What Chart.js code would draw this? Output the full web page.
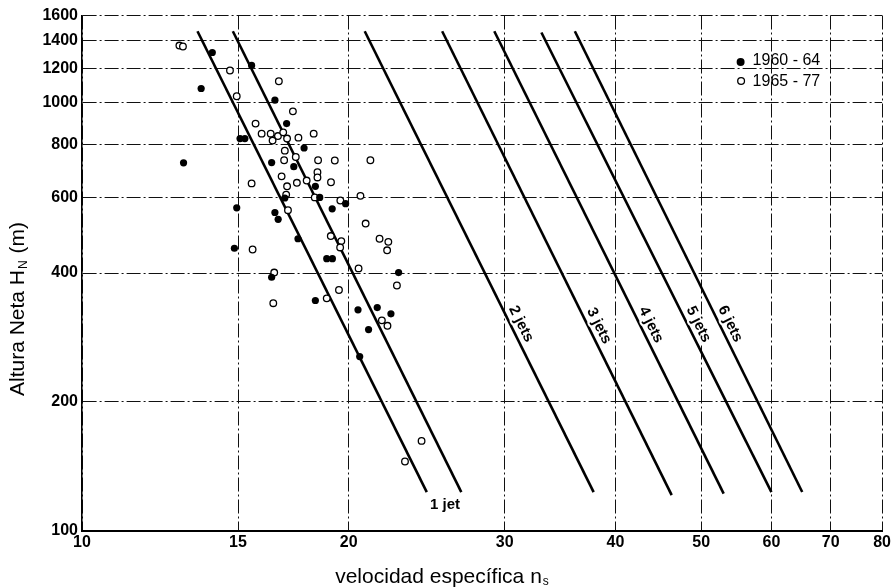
<!DOCTYPE html>
<html><head><meta charset="utf-8">
<script src="https://cdn.jsdelivr.net/npm/chart.js@4.4.0/dist/chart.umd.min.js"></script>
<style>html,body{margin:0;padding:0;background:#fff}#wrap{width:893px;height:588px;position:relative}</style>
</head><body><div id="wrap"><canvas id="c" width="893" height="588"></canvas></div>
<script>
// ---- data ----
const xTicks = [10, 15, 20, 30, 40, 50, 60, 70, 80];
const yTicks = [100, 200, 400, 600, 800, 1000, 1200, 1400, 1600];
const seriesNames = ['1960 - 64', '1965 - 77'];
const xTitle = 'velocidad específica n';
const xTitleSub = 's';
const yTitle = 'Altura Neta H';
const yTitleSub = 'N';
const yTitleTail = ' (m)';

// 1960-64 (filled)
const filledNs = [14.03, 13.63, 15.54, 16.51, 17.02, 15.08, 15.27, 17.81, 16.37, 17.34, 13.02, 18.34, 16.94, 18.55, 19.84, 14.95, 16.51, 16.65, 19.16, 17.53, 14.86, 18.89, 19.17, 16.37, 22.77, 18.34, 20.49, 21.54, 22.32, 21.06, 20.58];
const filledH  = [1311, 1080, 1223, 1014, 894, 825, 825, 784, 725, 709, 724, 638, 599, 601, 581, 568, 554, 534, 565, 481, 457, 432, 432, 391, 401, 345, 328, 332, 321, 295, 255];

// 1965-77 (open)
const openNs = [12.88, 13.00, 14.69, 14.95, 16.68, 17.30, 15.70, 15.95, 16.33, 16.64, 16.87, 16.41, 17.04, 17.55, 18.26, 16.94, 17.43, 16.91, 18.47, 19.29, 21.16, 16.80, 18.44, 18.44, 17.48, 17.93, 19.10, 15.54, 17.04, 17.00, 18.31, 19.57, 20.62, 17.08, 20.90, 19.09, 19.62, 19.56, 21.67, 22.17, 22.10, 15.58, 20.52, 16.48, 22.67, 16.44, 18.89, 19.50, 21.80, 22.12, 24.17, 23.15];
const openH  = [1361, 1354, 1190, 1036, 1123, 955, 894, 847, 847, 836, 853, 816, 825, 829, 847, 773, 747, 734, 734, 733, 734, 673, 688, 669, 650, 658, 652, 648, 638, 610, 601, 591, 606, 561, 522, 488, 475, 459, 481, 473, 452, 454, 410, 401, 374, 340, 349, 365, 310, 301, 162, 145];

// jet lines (straight lines in log-log space)
const lineNames    = ['1 jet', '1 jet', '2 jets', '3 jets', '4 jets', '5 jets', '6 jets'];
const lineNsTop    = [13.5, 14.8, 20.85, 25.5, 29.2, 33.0, 36.0];
const lineHTop     = [1470, 1470, 1470, 1470, 1470, 1460, 1470];
const lineNsBottom = [24.5, 26.8, 37.8, 46.3, 53.0, 60.0, 65.0];
const lineHBottom  = [123, 123, 123, 121, 122, 123, 123];

// ---- build chart ----
const FONT = '"Liberation Sans", Arial, Helvetica, sans-serif';
const toPts = (xs, ys) => xs.map((v, i) => ({x: v, y: ys[i]}));

const datasets = [
  {label: seriesNames[0], data: toPts(filledNs, filledH), showLine: false, order: 0,
   pointStyle: 'circle', pointRadius: 3.6, pointBackgroundColor: '#000', pointBorderColor: '#000', pointBorderWidth: 0},
  {label: seriesNames[1], data: toPts(openNs, openH), showLine: false, order: 0,
   pointStyle: 'circle', pointRadius: 3.3, pointBackgroundColor: '#fff', pointBorderColor: '#000', pointBorderWidth: 1.3}
];
lineNames.forEach((n, i) => {
  datasets.push({label: n, data: [{x: lineNsTop[i], y: lineHTop[i]}, {x: lineNsBottom[i], y: lineHBottom[i]}],
    showLine: true, pointRadius: 0, borderColor: '#000', borderWidth: 2.6, order: 1, isJet: true});
});

const overlay = {
  id: 'overlay',
  afterDatasetsDraw(chart) {
    const {ctx, chartArea: ca} = chart;
    const x = chart.scales.x, y = chart.scales.y;
    ctx.save();
    ctx.fillStyle = '#000';
    ctx.font = 'bold 15px ' + FONT;
    ctx.textAlign = 'center';
    ctx.textBaseline = 'middle';
    // "1 jet" below the pair
    const xb0 = x.getPixelForValue(lineNsBottom[0]), xb1 = x.getPixelForValue(lineNsBottom[1]);
    const yb = Math.max(y.getPixelForValue(lineHBottom[0]), y.getPixelForValue(lineHBottom[1]));
    ctx.fillText(lineNames[0], (xb0 + xb1) / 2 + 1, yb + 13);
    for (let i = 2; i < lineNames.length; i++) {
      const x0 = x.getPixelForValue(lineNsTop[i]), y0 = y.getPixelForValue(lineHTop[i]);
      const x1 = x.getPixelForValue(lineNsBottom[i]), y1 = y.getPixelForValue(lineHBottom[i]);
      const t = 0.635;
      const px = x0 + (x1 - x0) * t + 11, py = y0 + (y1 - y0) * t;
      ctx.save();
      ctx.translate(px, py);
      ctx.rotate(Math.atan2(y1 - y0, x1 - x0));
      ctx.lineWidth = 4; ctx.strokeStyle = '#fff'; ctx.lineJoin = 'round';
      ctx.strokeText(lineNames[i], 0, 0);
      ctx.fillText(lineNames[i], 0, 0);
      ctx.restore();
    }
    // legend
    const lx = ca.right - 141.5, ly1 = ca.top + 46.5, ly2 = ly1 + 19;
    ctx.beginPath(); ctx.arc(lx, ly1, 4, 0, Math.PI * 2); ctx.fill();
    ctx.beginPath(); ctx.arc(lx + 0.5, ly2, 3.4, 0, Math.PI * 2);
    ctx.fillStyle = '#fff'; ctx.fill(); ctx.lineWidth = 1.3; ctx.strokeStyle = '#000'; ctx.stroke();
    ctx.fillStyle = '#000';
    ctx.font = '16px ' + FONT;
    ctx.textAlign = 'left';
    ctx.fillText(seriesNames[0], lx + 12, ly1 - 1);
    ctx.fillText(seriesNames[1], lx + 12, ly2 + 0.5);
    ctx.restore();
  },
  afterDraw(chart) {
    const {ctx} = chart;
    ctx.save();
    ctx.fillStyle = '#000';
    ctx.textBaseline = 'alphabetic';
    ctx.textAlign = 'left';
    // x title
    const big = '21px ' + FONT, small = '12px ' + FONT;
    ctx.font = big; const w1 = ctx.measureText(xTitle).width;
    ctx.font = small; const w2 = ctx.measureText(xTitleSub).width;
    const sx = chart.width / 2 - 5 - (w1 + w2) / 2, base = 583;
    ctx.font = big; ctx.fillText(xTitle, sx, base);
    ctx.font = small; ctx.fillText(xTitleSub, sx + w1 + 1, base + 2);
    // y title
    ctx.translate(24, 310);
    ctx.rotate(-Math.PI / 2);
    ctx.font = big; const a = ctx.measureText(yTitle).width;
    ctx.font = small; const b = ctx.measureText(yTitleSub).width;
    ctx.font = big; const c = ctx.measureText(yTitleTail).width;
    let st = -(a + b + c) / 2;
    ctx.font = big; ctx.fillText(yTitle, st, 0);
    ctx.font = small; ctx.fillText(yTitleSub, st + a + 1, 3);
    ctx.font = big; ctx.fillText(yTitleTail, st + a + b + 2, 0);
    ctx.restore();
  }
};

new Chart(document.getElementById('c'), {
  type: 'scatter',
  data: {datasets},
  options: {
    responsive: false,
    animation: false,
    devicePixelRatio: 1,
    layout: {padding: {top: 15.5, right: 8, bottom: 0, left: 0}},
    plugins: {legend: {display: false}, tooltip: {enabled: false}},
    scales: {
      x: {
        type: 'logarithmic', min: xTicks[0], max: xTicks[xTicks.length - 1],
        afterBuildTicks: s => { s.ticks = xTicks.map(v => ({value: v})); },
        afterFit: s => { s.height = 57.5; },
        ticks: {color: '#000', padding: 2, autoSkip: false, maxRotation: 0,
          font: {family: FONT, size: 16, weight: 'bold'}, callback: v => String(v)},
        grid: {color: '#111', lineWidth: 1, drawTicks: false},
        border: {display: true, color: '#000', width: 2, dash: [14, 3, 2, 3]}
      },
      y: {
        type: 'logarithmic', min: yTicks[0], max: yTicks[yTicks.length - 1],
        afterBuildTicks: s => { s.ticks = yTicks.map(v => ({value: v})); },
        afterFit: s => { s.width = 82; },
        ticks: {color: '#000', padding: 4, autoSkip: false,
          font: {family: FONT, size: 16, weight: 'bold'}, callback: v => String(v)},
        grid: {color: '#111', lineWidth: 1, drawTicks: false},
        border: {display: true, color: '#000', width: 1.6, dash: [14, 3, 2, 3]}
      }
    }
  },
  plugins: [overlay]
});
</script>
</body></html>
